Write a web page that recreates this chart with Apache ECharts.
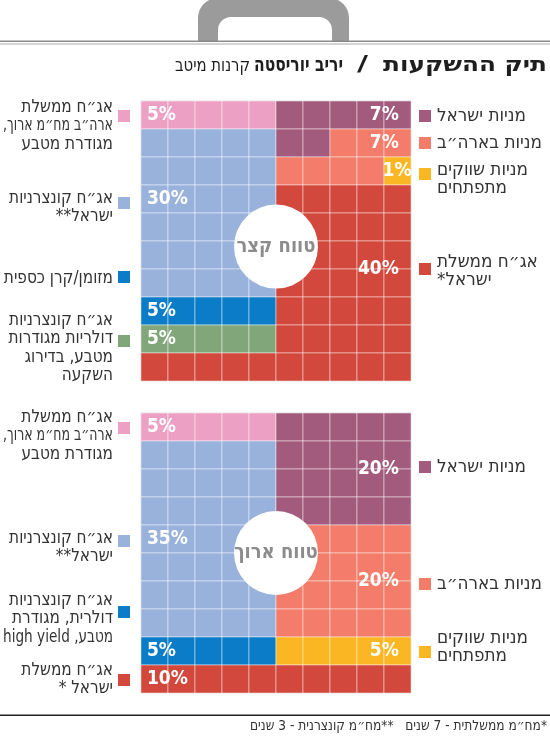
<!DOCTYPE html>
<html dir="rtl">
<head>
<meta charset="utf-8">
<script src="https://cdn.jsdelivr.net/npm/echarts@6/dist/echarts.min.js"></script>
<style>
html, body { margin: 0; padding: 0; background: #fff; }
#chart { width: 550px; height: 736px; }
</style>
</head>
<body>
<div id="chart"></div>
<script>
// categories (index used in the cell arrays below)
const categories = ['usGov', 'ilCorp', 'cash', 'dollarCorp', 'ilGov', 'ilStocks', 'usStocks', 'emStocks', 'dollarCorpHY'];
const palette = ['#eca1c4', '#99b2dc', '#0b7cc7', '#80a679', '#d2483c', '#a35b7d', '#f37c6a', '#fbb623', '#0b7cc7'];

// short term: left half / right half of the 10x10 waffle, filled row by row (1 cell = 1%)
const shortLeftCats = [0, 1, 2, 3, 4];
const shortLeftCounts = [5, 30, 5, 5, 5];
const shortRightCats = [5, 6, 7, 4];
const shortRightCounts = [7, 7, 1, 35];

// long term
const longLeftCats = [0, 1, 8, 4];
const longLeftCounts = [5, 35, 5, 5];
const longRightCats = [5, 6, 7, 4];
const longRightCounts = [20, 20, 5, 5];

const centerTitles = ['טווח קצר', 'טווח ארוך'];

function fillHalf(cats, counts, col0, out) {
    var k = 0;
    cats.forEach(function (c, i) {
        for (var n = 0; n < counts[i]; n++, k++) {
            out.push([col0 + k % 5, Math.floor(k / 5), c]);
        }
    });
    return out;
}
function totals(cells) {
    var t = {};
    cells.forEach(function (d) { t[d[2]] = (t[d[2]] || 0) + 1; });
    return t;
}

var shortCells = fillHalf(shortRightCats, shortRightCounts, 5, fillHalf(shortLeftCats, shortLeftCounts, 0, []));
var longCells = fillHalf(longRightCats, longRightCounts, 5, fillHalf(longLeftCats, longLeftCounts, 0, []));
var shortTot = totals(shortCells);
var longTot = totals(longCells);

// where each % label sits (category, x, y, align)
var shortSpots = [[0, 0.22, 0.5, 'left'], [1, 0.22, 3.5, 'left'], [2, 0.22, 7.5, 'left'], [3, 0.22, 8.5, 'left'],
    [5, 9.55, 0.5, 'right'], [6, 9.55, 1.5, 'right'], [7, 10.02, 2.5, 'right'], [4, 9.55, 6, 'right']];
var longSpots = [[0, 0.22, 0.5, 'left'], [1, 0.22, 4.5, 'left'], [8, 0.22, 8.5, 'left'], [4, 0.22, 9.5, 'left'],
    [5, 9.55, 2, 'right'], [6, 9.55, 6, 'right'], [7, 9.55, 8.5, 'right']];

var FONT = '"DejaVu Sans Condensed", "DejaVu Sans", sans-serif';

// text measuring, used to squeeze lines into the space the paper font takes
var mctx = document.createElement('canvas').getContext('2d');
function textWidth(t, size, bold) {
    mctx.font = (bold ? 'bold ' : '') + size + 'px ' + FONT;
    return mctx.measureText(t).width;
}

function cellSeries(cells, idx) {
    return {
        type: 'custom', xAxisIndex: idx, yAxisIndex: idx, z: 2,
        data: cells,
        renderItem: function (params, api) {
            var c = api.value(0), r = api.value(1);
            var p0 = api.coord([c, r]), p1 = api.coord([c + 1, r + 1]);
            return {
                type: 'rect',
                shape: { x: p0[0], y: p0[1], width: p1[0] - p0[0], height: p1[1] - p0[1] },
                style: { fill: palette[api.value(2)], stroke: 'rgba(255,255,255,0.45)', lineWidth: 1 }
            };
        }
    };
}
function labelSeries(spots, tot, idx) {
    return {
        type: 'custom', xAxisIndex: idx, yAxisIndex: idx, z: 4,
        data: spots.map(function (s) { return [s[1], s[2]]; }),
        renderItem: function (params, api) {
            var s = spots[params.dataIndex];
            var p = api.coord([api.value(0), api.value(1)]);
            return {
                type: 'text', x: p[0], y: p[1],
                style: { text: tot[s[0]] + '%', fill: '#fff', fontFamily: FONT, fontWeight: 'bold', fontSize: 19, align: s[3], verticalAlign: 'middle' }
            };
        }
    };
}
function circleSeries(pos, title, idx) {
    return {
        type: 'custom', xAxisIndex: idx, yAxisIndex: idx, z: 3,
        data: [pos],
        renderItem: function (params, api) {
            var p = api.coord([api.value(0), api.value(1)]);
            return {
                type: 'group', children: [
                    { type: 'circle', shape: { cx: p[0], cy: p[1], r: 42 }, style: { fill: '#fff' } },
                    { type: 'text', x: p[0], y: p[1], style: { text: title, fill: '#8c8c8c', fontFamily: FONT, fontWeight: 'bold', fontSize: 20, align: 'center', verticalAlign: 'middle' } }
                ]
            };
        }
    };
}

// legend entries: side, square centre y, text top y, category, text
var legendItems = [
    ['L', 116, 98, 0, 'אג״ח ממשלת\nארה״ב מח״מ ארוך,\nמגודרת מטבע'],
    ['L', 203, 189, 1, 'אג״ח קונצרניות\nישראל**'],
    ['L', 277, 269, 2, 'מזומן/קרן כספית'],
    ['L', 341, 311, 3, 'אג״ח קונצרניות\nדולריות מגודרות\nמטבע, בדירוג\nהשקעה'],
    ['R', 116, 107, 5, 'מניות ישראל'],
    ['R', 143, 134, 6, 'מניות בארה״ב'],
    ['R', 174, 161, 7, 'מניות שווקים\nמתפתחים'],
    ['R', 269, 253, 4, 'אג״ח ממשלת\nישראל*'],
    ['L', 428, 408, 0, 'אג״ח ממשלת\nארה״ב מח״מ ארוך,\nמגודרת מטבע'],
    ['L', 541, 529, 1, 'אג״ח קונצרניות\nישראל**'],
    ['L', 612, 591, 8, 'אג״ח קונצרניות\nדולרית, מגודרת\nמטבע, high yield'],
    ['L', 680, 661, 4, 'אג״ח ממשלת\nישראל *'],
    ['R', 467, 458, 5, 'מניות ישראל'],
    ['R', 584, 575, 6, 'מניות בארה״ב'],
    ['R', 652, 629, 7, 'מניות שווקים\nמתפתחים']
];

// title pieces: text, right edge x, bold, size, width on the page
function titleText(text, x, bold, size, w) {
    return {
        type: 'text', x: x, y: 66, scaleX: w / textWidth(text, size, bold),
        style: { text: text, align: 'right', verticalAlign: 'middle', fill: '#1e1e1e', fontFamily: FONT, fontWeight: bold ? 'bold' : 'normal', fontSize: size }
    };
}

var LEG = 18, LH = 18.5;
var footText = '*מח״מ ממשלתית - 7 שנים   **מח״מ קונצרנית - 3 שנים';
var graphics = [
    { type: 'rect', shape: { x: 198, y: -2, width: 151, height: 43, r: [20, 20, 0, 0] }, style: { fill: '#9b9b9b' } },
    { type: 'rect', shape: { x: 218, y: 17, width: 114, height: 26, r: [13, 13, 0, 0] }, style: { fill: '#fff' } },
    { type: 'rect', shape: { x: 0, y: 40.5, width: 550, height: 1.6 }, style: { fill: '#8a8a8a' } },
    { type: 'rect', shape: { x: 0, y: 43.5, width: 550, height: 1 }, style: { fill: '#aaa' } },
    titleText('תיק ההשקעות', 547, true, 21, 164),
    titleText('/', 368, true, 21, 11),
    titleText('יריב יוריסטה', 343, true, 21, 89),
    titleText('קרנות מיטב', 250, false, 19, 75),
    { type: 'rect', shape: { x: 0, y: 714.5, width: 550, height: 1.5 }, style: { fill: '#222' } },
    {
        type: 'text', x: 547, y: 726, scaleX: 297 / textWidth(footText, 14),
        style: { text: footText, align: 'right', verticalAlign: 'middle', fill: '#333', fontFamily: FONT, fontSize: 14 }
    }
];
legendItems.forEach(function (it) {
    var left = it[0] === 'L';
    graphics.push({ type: 'rect', shape: { x: left ? 118 : 419, y: it[1] - 6, width: 12, height: 12 }, style: { fill: palette[it[3]] } });
    it[4].split('\n').forEach(function (line, i) {
        var sx = Math.min(left ? 0.945 : 1.04, 110 / textWidth(line, LEG));
        graphics.push({
            type: 'text', x: left ? 113 : 437, y: it[2] + i * LH, scaleX: sx,
            style: { text: line, align: left ? 'right' : 'left', verticalAlign: 'top', lineHeight: LH, fill: '#333', fontFamily: FONT, fontSize: LEG }
        });
    });
});

var chart = echarts.init(document.getElementById('chart'));
var axisBase = { type: 'value', min: 0, max: 10, show: false };
chart.setOption({
    animation: false,
    grid: [
        { left: 141, top: 101, width: 270, height: 280, show: true, borderColor: '#ddd', borderWidth: 1 },
        { left: 141, top: 413, width: 270, height: 280, show: true, borderColor: '#ddd', borderWidth: 1 }
    ],
    xAxis: [Object.assign({ gridIndex: 0 }, axisBase), Object.assign({ gridIndex: 1 }, axisBase)],
    yAxis: [Object.assign({ gridIndex: 0, inverse: true }, axisBase), Object.assign({ gridIndex: 1, inverse: true }, axisBase)],
    graphic: graphics,
    series: [
        cellSeries(shortCells, 0),
        cellSeries(longCells, 1),
        circleSeries([5, 5.2], centerTitles[0], 0),
        circleSeries([5, 5], centerTitles[1], 1),
        labelSeries(shortSpots, shortTot, 0),
        labelSeries(longSpots, longTot, 1)
    ]
});
</script>
</body>
</html>
